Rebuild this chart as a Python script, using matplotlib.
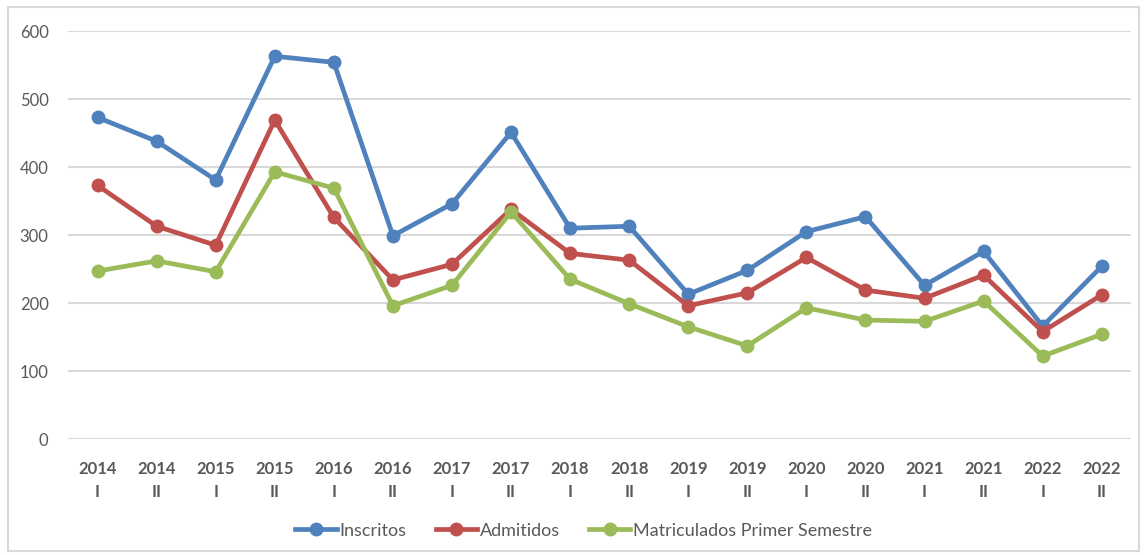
import numpy as np
import matplotlib.pyplot as plt
from matplotlib.patches import Rectangle

periodos = ["2014\nI", "2014\nII", "2015\nI", "2015\nII", "2016\nI", "2016\nII",
            "2017\nI", "2017\nII", "2018\nI", "2018\nII", "2019\nI", "2019\nII",
            "2020\nI", "2020\nII", "2021\nI", "2021\nII", "2022\nI", "2022\nII"]
inscritos = [473, 438, 381, 563, 554, 299, 346, 451, 310, 313, 213, 248, 305, 327, 226, 276, 166, 254]
admitidos = [373, 313, 285, 469, 326, 234, 257, 338, 273, 263, 196, 215, 267, 219, 207, 241, 158, 212]
matriculados = [247, 262, 246, 393, 369, 196, 226, 334, 235, 199, 165, 137, 193, 175, 173, 203, 122, 154]

plt.rcParams['font.family'] = ['Lato', 'DejaVu Sans']

fig = plt.figure(figsize=(11.47, 5.55), dpi=100)
ax = fig.add_axes([0.0593, 0.209, 0.927, 0.735])

x = np.arange(len(periodos))
ax.plot(x, inscritos, color="#4F81BD", lw=3.4, marker="o", ms=9, label="Inscritos")
ax.plot(x, admitidos, color="#C0504D", lw=3.4, marker="o", ms=9, label="Admitidos")
ax.plot(x, matriculados, color="#9BBB59", lw=3.4, marker="o", ms=9, label="Matriculados Primer Semestre")

ax.set_xlim(-0.5, len(periodos) - 0.5)
ax.set_ylim(0, 600)
ax.set_yticks(range(0, 601, 100))
ax.set_xticks(x)
ax.set_xticklabels(periodos, fontweight="bold", color="#595959", fontsize=12, linespacing=1.55)
ax.tick_params(axis="y", colors="#595959", labelsize=12, length=0, pad=14)
ax.tick_params(axis="x", length=0, pad=16)
ax.grid(axis="y", color="#D9D9D9", lw=1.5)
ax.set_axisbelow(True)
for s in ax.spines.values():
    s.set_visible(False)

leg = ax.legend(loc="upper center", bbox_to_anchor=(0.485, -0.165), ncol=3, frameon=False,
                fontsize=13, handlelength=2.3, columnspacing=1.6, handletextpad=0.15)
for t in leg.get_texts():
    t.set_color("#595959")

fig.patches.append(Rectangle((0.007, 0.008), 0.986, 0.98, transform=fig.transFigure,
                             fill=False, edgecolor="#D9D9D9", lw=1.5))

fig.savefig("out.png", dpi=100)
